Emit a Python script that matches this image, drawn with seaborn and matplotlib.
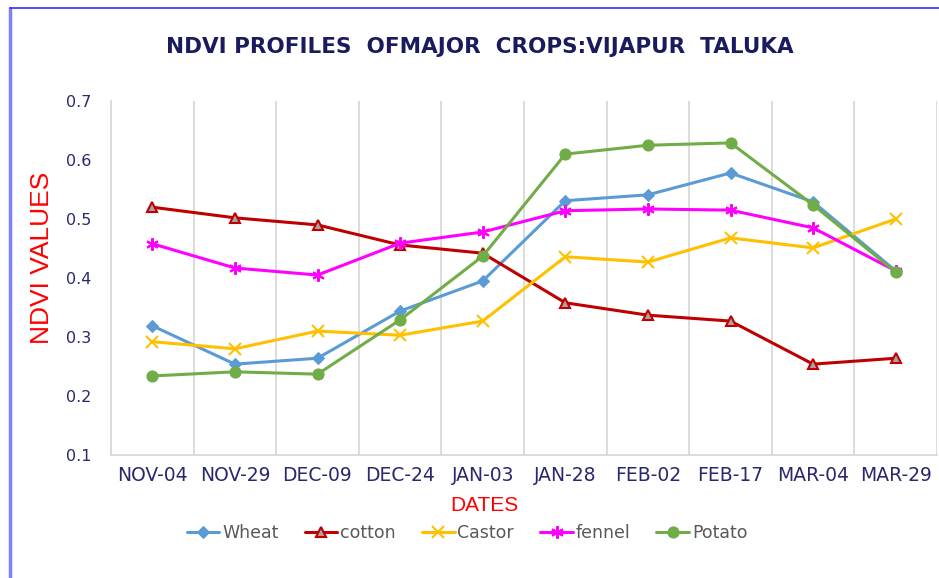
import matplotlib
matplotlib.use("Agg")
import matplotlib.pyplot as plt
from matplotlib.lines import Line2D
import seaborn as sns

# Data
dates = ["NOV-04", "NOV-29", "DEC-09", "DEC-24", "JAN-03",
         "JAN-28", "FEB-02", "FEB-17", "MAR-04", "MAR-29"]
wheat = [0.319, 0.254, 0.264, 0.344, 0.395, 0.531, 0.541, 0.578, 0.529, 0.412]
cotton = [0.520, 0.502, 0.490, 0.456, 0.442, 0.358, 0.337, 0.327, 0.254, 0.264]
castor = [0.292, 0.280, 0.310, 0.303, 0.327, 0.436, 0.427, 0.468, 0.451, 0.500]
fennel = [0.458, 0.417, 0.405, 0.459, 0.478, 0.514, 0.517, 0.515, 0.485, 0.412]
potato = [0.234, 0.241, 0.237, 0.329, 0.437, 0.610, 0.625, 0.629, 0.524, 0.410]
y_ticks = [0.1, 0.2, 0.3, 0.4, 0.5, 0.6, 0.7]

sns.set_style("white")
plt.rcParams['font.family'] = ['DejaVu Sans']

fig = plt.figure(figsize=(9.39, 5.78), dpi=100)
ax = fig.add_axes([111 / 939, 1 - 455 / 578, 826 / 939, 354 / 578])

series = [
    ("Wheat", wheat, dict(color="#5B9BD5", marker="D", markersize=6,
                          markerfacecolor="#5B9BD5", markeredgecolor="#5B9BD5")),
    ("cotton", cotton, dict(color="#C00000", marker="^", markersize=7.5,
                            markerfacecolor="#A5A5A5", markeredgecolor="#C00000",
                            markeredgewidth=1.5)),
    ("Castor", castor, dict(color="#FFC000", marker="x", markersize=8,
                            markeredgecolor="#FFC000", markeredgewidth=1.5)),
    ("fennel", fennel, dict(color="#FF00FF", marker=(6, 2, 0), markersize=9,
                            markeredgecolor="#FF00FF", markeredgewidth=1.5)),
    ("Potato", potato, dict(color="#70AD47", marker="o", markersize=8,
                            markerfacecolor="#70AD47", markeredgecolor="#70AD47")),
]

for name, vals, style in series:
    sns.lineplot(x=dates, y=vals, ax=ax, label=name, linewidth=2.2, sort=False, **style)

ax.set_xlim(-0.5, len(dates) - 0.5)
ax.set_ylim(0.1, 0.7)
ax.set_yticks(y_ticks)
ax.set_yticklabels([f"{t:.1f}" for t in y_ticks])
ax.set_xticks(range(len(dates)))
ax.set_xticklabels(dates)

# vertical gridlines between categories
ax.set_xticks([i - 0.5 for i in range(len(dates) + 1)], minor=True)
ax.grid(True, which="minor", axis="x", color="#D9D9D9", linewidth=1.3)
ax.grid(False, which="major")
ax.tick_params(which="both", length=0)
ax.tick_params(axis="x", which="major", labelsize=13.5, labelcolor="#28286E", pad=8)
ax.tick_params(axis="y", labelsize=11.5, labelcolor="#28286E", pad=14)

for side in ["top", "right"]:
    ax.spines[side].set_visible(False)
for side in ["left", "bottom"]:
    ax.spines[side].set_color("#D9D9D9")
    ax.spines[side].set_linewidth(1.3)

ax.set_xlabel("DATES", color="#FF0000", fontsize=15,
              family=["Liberation Sans", "DejaVu Sans"])
ax.xaxis.set_label_coords((484 - 111) / 826, -(496 - 455) / 354)
ax.set_ylabel("NDVI VALUES", color="#FF0000", fontsize=19,
              family=["Liberation Sans", "DejaVu Sans"])
ax.yaxis.set_label_coords(-(111 - 54) / 826, (455 - 258) / 354)

fig.text(480 / 939, 1 - 47 / 578, "NDVI PROFILES  OFMAJOR  CROPS:VIJAPUR  TALUKA",
         ha="center", va="center", fontsize=15.5, fontweight="bold", color="#1A1A5E")

ax.get_legend().remove()
handles, labels = ax.get_legend_handles_labels()
fig.legend(handles, labels, loc="center", bbox_to_anchor=(467 / 939, 1 - 533 / 578),
           ncol=5, frameon=False, fontsize=12.5, handlelength=1.9, handletextpad=0.15,
           columnspacing=1.5, labelcolor="#595959")

# chart frame edges (left and top)
fig.add_artist(Line2D([10 / 939, 10 / 939], [0, 1 - 8 / 578], color="#7F7FFF", linewidth=2.5))
fig.add_artist(Line2D([10 / 939, 1], [1 - 8 / 578, 1 - 8 / 578], color="#3030FF", linewidth=1.2))

fig.savefig("out.png", dpi=100)
